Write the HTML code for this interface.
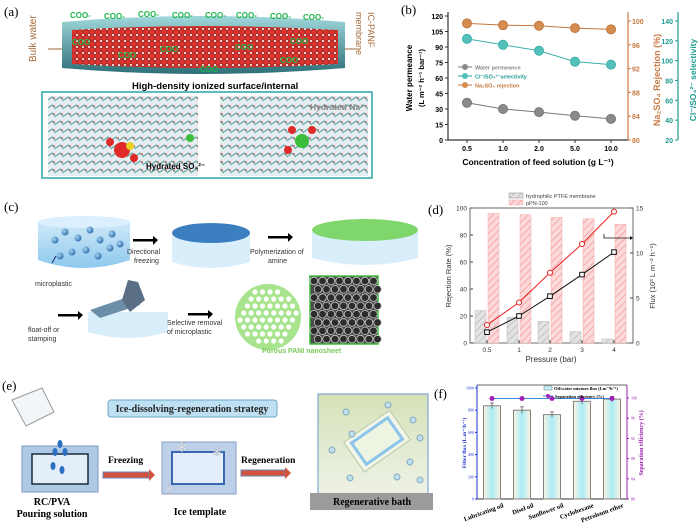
<!DOCTYPE html>
<html><head><meta charset="utf-8">
<style>
html,body{margin:0;padding:0;background:#fff;}
svg{display:block;font-family:"Liberation Sans",sans-serif;}
.serif{font-family:"Liberation Serif",serif;}
</style></head>
<body>
<svg id="fig" width="700" height="526" viewBox="0 0 700 526" xmlns="http://www.w3.org/2000/svg">
<defs>
<linearGradient id="teal" x1="0" y1="0" x2="0" y2="1"><stop offset="0" stop-color="#9fd8dc"/><stop offset="1" stop-color="#2d6f78"/></linearGradient>
<pattern id="reddots" width="6" height="6" patternUnits="userSpaceOnUse"><rect width="6" height="6" fill="#b8302a"/><circle cx="2" cy="2" r="1.8" fill="#e8342c"/><circle cx="5" cy="5" r="1" fill="#fff"/></pattern>
<pattern id="md" width="8" height="8" patternUnits="userSpaceOnUse"><rect width="8" height="8" fill="#e7ecee"/><path d="M0 4 L4 1 L8 5" stroke="#5aa7ad" stroke-width="1.2" fill="none"/><circle cx="6" cy="2" r="0.9" fill="#d44"/></pattern>
<pattern id="hatchPink" width="5" height="5" patternUnits="userSpaceOnUse" patternTransform="rotate(45)"><rect width="5" height="5" fill="#fcdada"/><line x1="0" y1="0" x2="0" y2="5" stroke="#f4a8a8" stroke-width="2"/></pattern>
<pattern id="hatchGrey" width="5" height="5" patternUnits="userSpaceOnUse" patternTransform="rotate(45)"><rect width="5" height="5" fill="#e3e3e3"/><line x1="0" y1="0" x2="0" y2="5" stroke="#c2c2c2" stroke-width="2"/></pattern>
<linearGradient id="cyanbar" x1="0" y1="0" x2="1" y2="0"><stop offset="0" stop-color="#fbf3e6"/><stop offset="0.5" stop-color="#a9ecf5"/><stop offset="1" stop-color="#fbf3e6"/></linearGradient>
<linearGradient id="bath" x1="0" y1="0" x2="0" y2="1"><stop offset="0" stop-color="#d5e2b8"/><stop offset="1" stop-color="#eef2e6"/></linearGradient>
<linearGradient id="dish" x1="0" y1="0" x2="0" y2="1"><stop offset="0" stop-color="#cfe9f8"/><stop offset="1" stop-color="#8ec9ee"/></linearGradient>
<radialGradient id="ball" cx="0.35" cy="0.35" r="0.7"><stop offset="0" stop-color="#a7d4f4"/><stop offset="1" stop-color="#2e6ea8"/></radialGradient>
</defs>

<!-- ===== Panel (a) ===== -->
<g>
<text x="4" y="16" class="serif" font-size="13">(a)</text>
<path d="M62 22 Q200 10 345 22 L345 68 Q200 80 62 68 Z" fill="url(#teal)"/>
<path d="M72 30 Q200 22 338 30 L338 64 Q200 72 72 64 Z" fill="url(#reddots)"/>
<g fill="#1fb54a" font-size="8" font-weight="bold">
<text x="70" y="18">COO-</text><text x="104" y="19">COO-</text><text x="138" y="17">COO-</text><text x="172" y="18">COO-</text><text x="205" y="18">COO-</text><text x="236" y="18">COO-</text><text x="270" y="19">COO-</text><text x="303" y="20">COO-</text>
<text x="72" y="45">COO</text><text x="118" y="58">COO</text><text x="160" y="52">COO</text><text x="235" y="50">COO</text><text x="290" y="44">COO</text><text x="280" y="63">COO</text><text x="200" y="72">COO</text>
</g>
<line x1="48" y1="49" x2="62" y2="49" stroke="#9a6a3c"/>
<line x1="345" y1="49" x2="360" y2="49" stroke="#9a6a3c"/>
<text transform="translate(36,62) rotate(-90)" font-size="10" fill="#a56b3b">Bulk water</text>
<text transform="translate(368,12) rotate(90)" font-size="9" fill="#a56b3b">IC-PANF</text>
<text transform="translate(356,12) rotate(90)" font-size="9" fill="#a56b3b">membrane</text>
<text x="132" y="89" font-size="9.5" font-weight="bold">High-density ionized surface/internal</text>
<rect x="42" y="92" width="330" height="86" fill="#fff" stroke="#2aa6a8" stroke-width="1.5"/>
<rect x="48" y="96" width="150" height="80" fill="url(#md)"/>
<rect x="220" y="96" width="148" height="80" fill="url(#md)"/>
<circle cx="122" cy="150" r="8" fill="#e02a2a"/><circle cx="130" cy="146" r="4" fill="#e6d020"/><circle cx="110" cy="142" r="4" fill="#e02a2a"/><circle cx="134" cy="158" r="4" fill="#e02a2a"/>
<circle cx="302" cy="141" r="7" fill="#3cbd3c"/><circle cx="292" cy="130" r="4" fill="#e02a2a"/><circle cx="312" cy="130" r="4" fill="#e02a2a"/><circle cx="288" cy="150" r="4" fill="#e02a2a"/>
<circle cx="190" cy="138" r="4" fill="#3cbd3c"/>
<text x="146" y="169" font-size="8" font-weight="bold">Hydrated SO₄²⁻</text>
<text x="310" y="110" font-size="8.5" font-weight="bold" fill="#888">Hydrated Na⁺</text>
</g>

<!-- ===== Panel (c) ===== -->
<g>
<text x="4" y="211" class="serif" font-size="13">(c)</text>
<path d="M38 222 L130 222 L130 260 Q84 276 38 260 Z" fill="url(#dish)"/>
<ellipse cx="84" cy="222" rx="46" ry="6" fill="#dcefff"/>
<g fill="url(#ball)"><circle cx="55" cy="240" r="3.5"/><circle cx="65" cy="232" r="3.5"/><circle cx="78" cy="238" r="3.5"/><circle cx="90" cy="230" r="3.5"/><circle cx="100" cy="240" r="3.5"/><circle cx="112" cy="234" r="3.5"/><circle cx="72" cy="252" r="3.5"/><circle cx="86" cy="250" r="3.5"/><circle cx="98" cy="256" r="3.5"/><circle cx="110" cy="248" r="3.5"/><circle cx="60" cy="256" r="3.5"/><circle cx="120" cy="244" r="3.5"/></g>
<line x1="52" y1="263" x2="56" y2="256" stroke="#23286a"/>
<text x="35" y="286" font-size="7" fill="#333">microplastic</text>
<rect x="133" y="239" width="20" height="2.5" fill="#000"/><polygon points="153,236 158,240 153,245" fill="#000"/>
<text x="127" y="254" font-size="7" fill="#333">Directional</text><text x="134" y="263" font-size="7" fill="#333">freezing</text>
<path d="M172 236 L250 236 L250 262 Q211 274 172 262 Z" fill="#d9eefb"/>
<ellipse cx="211" cy="233" rx="39" ry="10" fill="#3b7fc0"/>
<text x="250" y="254" font-size="7" fill="#333">Polymerization of</text><text x="268" y="263" font-size="7" fill="#333">amine</text>
<rect x="268" y="236" width="20" height="2.5" fill="#000"/><polygon points="288,233 293,237 288,242" fill="#000"/>
<path d="M312 232 L418 232 L418 258 Q365 272 312 258 Z" fill="#d9eefb"/>
<ellipse cx="365" cy="230" rx="53" ry="11" fill="#7fd66a"/>
<rect x="58" y="314" width="20" height="2.5" fill="#000"/><polygon points="78,311 83,315 78,320" fill="#000"/>
<text x="28" y="332" font-size="7" fill="#333">float-off or</text><text x="28" y="341" font-size="7" fill="#333">stamping</text>
<path d="M88 312 L168 312 L168 332 Q128 344 88 332 Z" fill="#d9eefb"/>
<path d="M90 310 L125 298 L135 290 L140 305 L100 318 Z" fill="#6b8fa8"/>
<path d="M122 300 L128 280 L138 282 L145 300 L130 312 Z" fill="#5a6f84"/>
<rect x="188" y="313" width="20" height="2.5" fill="#000"/><polygon points="208,310 213,314 208,319" fill="#000"/>
<text x="167" y="325" font-size="7" fill="#333">Selective removal</text><text x="167" y="334" font-size="7" fill="#333">of microplastic</text>
<circle cx="268" cy="317" r="33" fill="#a8e48e"/>
<g id="holes" fill="#fff"></g>
<rect x="310" y="276" width="68" height="68" fill="#4a4a4a" stroke="#3cbd3c" stroke-width="1.5"/>
<g id="sem"></g>
<text x="262" y="353" font-size="7" font-weight="bold" fill="#7cc95a">Porous PANI nanosheet</text>
</g>

<!-- ===== Panel (e) ===== -->
<g>
<text x="2" y="390" class="serif" font-size="13">(e)</text>
<rect x="108" y="400" width="169" height="17" rx="3" fill="#bfe0f2" stroke="#6aa9cc"/>
<text x="192" y="412" text-anchor="middle" class="serif" font-size="10" font-weight="bold" fill="#222">Ice-dissolving-regeneration strategy</text>
<path d="M12 400 L42 388 L54 412 L26 426 Z" fill="#f2f6f8" stroke="#999"/>
<rect x="22" y="446" width="76" height="46" fill="#aec9e4" stroke="#7a9ab8"/>
<rect x="32" y="454" width="56" height="30" fill="#e3eef8" stroke="#1d2a3a" stroke-width="1.5"/>
<g fill="#2a6fc2"><ellipse cx="60" cy="444" rx="2.5" ry="4"/><ellipse cx="55" cy="452" rx="2.5" ry="4"/><ellipse cx="65" cy="452" rx="2.5" ry="4"/><ellipse cx="53" cy="466" rx="2.5" ry="4"/><ellipse cx="62" cy="470" rx="2.5" ry="4"/></g>
<text x="52" y="505" text-anchor="middle" class="serif" font-size="10" font-weight="bold">RC/PVA</text>
<text x="52" y="517" text-anchor="middle" class="serif" font-size="10" font-weight="bold">Pouring solution</text>
<text x="108" y="463" class="serif" font-size="9.5" font-weight="bold">Freezing</text>
<rect x="103" y="472" width="46" height="6" fill="#d4533e" stroke="#6a85b8"/><polygon points="149,469 155,475 149,481" fill="#d4533e"/>
<rect x="162" y="442" width="74" height="52" fill="#bcd0ea" stroke="#8aa0c4"/>
<rect x="172" y="452" width="52" height="32" fill="#e4eefa" stroke="#3b67b0" stroke-width="2"/>
<text x="176" y="452" font-size="14" fill="#fff" stroke="#9ab" stroke-width="0.3">❄</text><text x="212" y="456" font-size="12" fill="#fff" stroke="#9ab" stroke-width="0.3">❄</text><text x="164" y="494" font-size="13" fill="#fff" stroke="#9ab" stroke-width="0.3">❄</text>
<text x="200" y="515" text-anchor="middle" class="serif" font-size="10" font-weight="bold">Ice template</text>
<text x="241" y="463" class="serif" font-size="9.5" font-weight="bold">Regeneration</text>
<rect x="241" y="470" width="44" height="6" fill="#d4533e" stroke="#6a85b8"/><polygon points="285,467 291,473 285,479" fill="#d4533e"/>
<rect x="318" y="394" width="110" height="100" fill="url(#bath)" stroke="#6a9ad0"/>
<g transform="rotate(-35 375 440)"><rect x="348" y="424" width="56" height="36" fill="#f1f6e8" stroke="#b8c8a8"/><rect x="354" y="429" width="44" height="26" fill="#eef4e2" stroke="#8cc4ec" stroke-width="3"/></g>
<g fill="#bfe0ef" stroke="#8ab"><circle cx="346" cy="412" r="3"/><circle cx="388" cy="405" r="3"/><circle cx="413" cy="420" r="3"/><circle cx="332" cy="450" r="3"/><circle cx="352" cy="434" r="3"/><circle cx="420" cy="438" r="3"/><circle cx="410" cy="462" r="3"/><circle cx="397" cy="477" r="3"/><circle cx="350" cy="478" r="3"/><circle cx="420" cy="480" r="3"/></g>
<rect x="310" y="493" width="123" height="17" fill="#9b9b9b"/>
<text x="372" y="505" text-anchor="middle" class="serif" font-size="10" font-weight="bold">Regenerative bath</text>
</g>

<!-- ===== Chart (b) ===== -->
<g id="chartB">
<text x="401" y="14" class="serif" font-size="13">(b)</text>
</g>
<!-- ===== Chart (d) ===== -->
<g id="chartD">
<text x="428" y="214" class="serif" font-size="13">(d)</text>
</g>
<!-- ===== Chart (f) ===== -->
<g id="chartF">
<text x="434" y="398" class="serif" font-size="13">(f)</text>
</g>
</svg>

<script>
// ---------- Panel b data ----------
const bCategories = ["0.5","1.0","2.0","5.0","10.0"];
const bPermeance = [36, 30, 27, 23.5, 20.5];
const bSelectivity = [122, 116, 110, 99, 96];
const bRejection = [99.6, 99.3, 99.2, 98.8, 98.6];
const bLeftTicks = [0,15,30,45,60,75,90,105,120];
const bRejTicks = [80,84,88,92,96,100];
const bSelTicks = [20,40,60,80,100,120,140];

// ---------- Panel d data ----------
const dCategories = ["0.5","1","2","3","4"];
const dPtfeRejection = [24, 19, 16, 8.5, 3];
const dPpnRejection = [96, 95, 93, 92, 88];
const dPpnFlux = [2, 4.5, 7.8, 11, 14.6];
const dPtfeFlux = [1.2, 3, 5.2, 7.6, 10.1];
const dLeftTicks = [0,20,40,60,80,100];
const dRightTicks = [0,5,10,15];

// ---------- Panel f data ----------
const fCategories = ["Lubricating oil","Disel oil","Sunflower oil","Cyclohexane","Petroleum ether"];
const fFlux = [840, 800, 760, 880, 900];
const fFluxErr = [25, 30, 25, 25, 25];
const fEfficiency = [99.9, 99.9, 99.9, 99.9, 99.9];
const fLeftTicks = [0,200,400,600,800,1000];
const fRightTicks = [80,84,88,92,96,100];

const NS = "http://www.w3.org/2000/svg";
function mk(parent, tag, attrs, text){
  const e = document.createElementNS(NS, tag);
  for (const k in attrs) e.setAttribute(k, attrs[k]);
  if (text !== undefined) e.textContent = text;
  parent.appendChild(e);
  return e;
}
function lin(d0,d1,r0,r1){ return v => r0 + (v-d0)/(d1-d0)*(r1-r0); }

// ===== Chart B =====
(function(){
  const g = document.getElementById('chartB');
  const x0=448, x1=628, yTop=12, yBot=140;
  const xb = i => 467 + i*36;
  const yL = lin(0,120,140,16);
  const yR = lin(80,100,140,21);
  const yS = lin(20,140,140,21);
  let a = mk(g,'line',{x1:x0,y1:yBot,x2:x1,y2:yBot,stroke:'#333','stroke-width':1.2});
   
  a = mk(g,'line',{x1:x0,y1:yTop,x2:x0,y2:yBot,stroke:'#333','stroke-width':1.2});
   
  a = mk(g,'line',{x1:x1,y1:yTop,x2:x1,y2:yBot,stroke:'#c77a45','stroke-width':1.2});
   
  a = mk(g,'line',{x1:678,y1:12,x2:678,y2:yBot,stroke:'#1f9a92','stroke-width':1.2});
   
  bLeftTicks.forEach(v=>{
    mk(g,'line',{x1:x0-3,y1:yL(v),x2:x0,y2:yL(v),stroke:'#333'});
    const t = mk(g,'text',{x:x0-5,y:yL(v)+3,'text-anchor':'end','font-size':7,'font-weight':'bold'},v);
     
  });
  bRejTicks.forEach(v=>{
    mk(g,'line',{x1:x1,y1:yR(v),x2:x1+3,y2:yR(v),stroke:'#c77a45'});
    const t = mk(g,'text',{x:x1+4,y:yR(v)+3,'font-size':7,'font-weight':'bold',fill:'#c77a45'},v);
     
  });
  bSelTicks.forEach(v=>{
    mk(g,'line',{x1:675,y1:yS(v),x2:678,y2:yS(v),stroke:'#1f9a92'});
    const t = mk(g,'text',{x:673,y:yS(v)+3,'text-anchor':'end','font-size':7,'font-weight':'bold',fill:'#1f9a92'},v);
     
  });
  bCategories.forEach((c,i)=>{
    mk(g,'line',{x1:xb(i),y1:yBot,x2:xb(i),y2:yBot+3,stroke:'#333'});
    const t = mk(g,'text',{x:xb(i),y:yBot+11,'text-anchor':'middle','font-size':7,'font-weight':'bold'},c);
     
  });
  let t = mk(g,'text',{x:538,y:165,'text-anchor':'middle','font-size':8.5,'font-weight':'bold'},'Concentration of feed solution (g L⁻¹)');
   
  t = mk(g,'text',{transform:'translate(412,78) rotate(-90)','text-anchor':'middle','font-size':8,'font-weight':'bold'},'Water permeance');
   
  t = mk(g,'text',{transform:'translate(424,78) rotate(-90)','text-anchor':'middle','font-size':7.5,'font-weight':'bold'},'(L m⁻² h⁻¹ bar⁻¹)');
   
  t = mk(g,'text',{transform:'translate(660,80) rotate(-90)','text-anchor':'middle','font-size':9,'font-weight':'bold',fill:'#c77a45'},'Na₂SO₄ Rejection (%)');
   
  t = mk(g,'text',{transform:'translate(696,80) rotate(-90)','text-anchor':'middle','font-size':8.5,'font-weight':'bold',fill:'#1f9a92'},'Cl⁻/SO₄²⁻ selectivity');
   
  const series = [
    {vals:bRejection, sc:yR, col:'#c2773f', fill:'#d58c50', name:'b-rejection'},
    {vals:bSelectivity, sc:yS, col:'#3bb0aa', fill:'#54c0ba', name:'b-selectivity'},
    {vals:bPermeance, sc:yL, col:'#777', fill:'#8a8a8a', name:'b-permeance'}
  ];
  series.forEach(s=>{
    const pts = s.vals.map((v,i)=>xb(i)+','+s.sc(v)).join(' ');
    const l = mk(g,'polyline',{points:pts,fill:'none',stroke:s.col,'stroke-width':1});
     
    s.vals.forEach((v,i)=>{
      const c = mk(g,'circle',{cx:xb(i),cy:s.sc(v),r:4.5,fill:s.fill,stroke:s.col});
       
    });
  });
  // legend
  const leg = [['Water permeance','#8a8a8a','#777'],['Cl⁻/SO₄²⁻selectivity','#54c0ba','#1f9a92'],['Na₂SO₄ rejection','#d58c50','#c2773f']];
  leg.forEach((L,i)=>{
    const y = 67 + i*9;
    mk(g,'line',{x1:458,y1:y,x2:472,y2:y,stroke:L[2]});
    mk(g,'circle',{cx:465,cy:y,r:3,fill:L[1]});
    const tt = mk(g,'text',{x:475,y:y+2.5,'font-size':5.5,'font-weight':'bold',fill:i==0?'#888':L[2]},L[0]);
     
  });
})();

// ===== Chart D =====
(function(){
  const g = document.getElementById('chartD');
  const x0=470, x1=633, yTop=208, yBot=343;
  const xd = i => [487,519,550,582,614][i];
  const yL = lin(0,100,343,208);
  const yR = lin(0,15,343,208);
  mk(g,'rect',{x:x0,y:yTop,width:x1-x0,height:yBot-yTop,fill:'none',stroke:'#444','stroke-width':0.8});
  dPtfeRejection.forEach((v,i)=>{
    const r = mk(g,'rect',{x:xd(i)-12,y:yL(v),width:11,height:yBot-yL(v),fill:'url(#hatchGrey)',stroke:'#bbb','stroke-width':0.5});
     
  });
  dPpnRejection.forEach((v,i)=>{
    const r = mk(g,'rect',{x:xd(i)+1,y:yL(v),width:11,height:yBot-yL(v),fill:'url(#hatchPink)',stroke:'#f4a8a8','stroke-width':0.5});
     
  });
  let l = mk(g,'polyline',{points:dPpnFlux.map((v,i)=>xd(i)+','+yR(v)).join(' '),fill:'none',stroke:'#e82020','stroke-width':1});
   
  l = mk(g,'polyline',{points:dPtfeFlux.map((v,i)=>xd(i)+','+yR(v)).join(' '),fill:'none',stroke:'#111','stroke-width':1});
   
  dPpnFlux.forEach((v,i)=>{
    const c = mk(g,'circle',{cx:xd(i),cy:yR(v),r:2.5,fill:'#fff',stroke:'#e82020'});
     
  });
  dPtfeFlux.forEach((v,i)=>{
    const c = mk(g,'rect',{x:xd(i)-2.3,y:yR(v)-2.3,width:4.6,height:4.6,fill:'#fff',stroke:'#111'});
     
  });
  dLeftTicks.forEach(v=>{
    mk(g,'line',{x1:x0,y1:yL(v),x2:x0+3,y2:yL(v),stroke:'#444'});
    const t = mk(g,'text',{x:x0-3,y:yL(v)+2.5,'text-anchor':'end','font-size':6.5,fill:'#333'},v);
     
  });
  dRightTicks.forEach(v=>{
    mk(g,'line',{x1:x1-3,y1:yR(v),x2:x1,y2:yR(v),stroke:'#444'});
    const t = mk(g,'text',{x:x1+3,y:yR(v)+2.5,'font-size':6.5,fill:'#333'},v);
     
  });
  dCategories.forEach((c,i)=>{
    mk(g,'line',{x1:xd(i),y1:yBot,x2:xd(i),y2:yBot-3,stroke:'#444'});
    const t = mk(g,'text',{x:xd(i),y:yBot+9,'text-anchor':'middle','font-size':6.5,fill:'#333'},c);
     
  });
  mk(g,'polyline',{points:'604,234 604,238 630,238',fill:'none',stroke:'#111','stroke-width':0.8});
  mk(g,'polygon',{points:'630,236 633,238 630,240',fill:'#111'});
  let t = mk(g,'text',{x:551,y:362,'text-anchor':'middle','font-size':8,fill:'#333'},'Pressure (bar)');
   
  t = mk(g,'text',{transform:'translate(451,276) rotate(-90)','text-anchor':'middle','font-size':7.5,fill:'#333'},'Rejection Rate (%)');
   
  t = mk(g,'text',{transform:'translate(655,276) rotate(-90)','text-anchor':'middle','font-size':7.5,fill:'#333'},'Flux (10³ L m⁻² h⁻¹)');
   
  mk(g,'rect',{x:509,y:193,width:14,height:5,fill:'url(#hatchGrey)',stroke:'#888','stroke-width':0.5});
  t = mk(g,'text',{x:526,y:198,'font-size':5.5,fill:'#444'},'hydrophilic PTFE membrane');
   
  mk(g,'rect',{x:509,y:200,width:14,height:5,fill:'url(#hatchPink)',stroke:'#f4a8a8','stroke-width':0.5});
  t = mk(g,'text',{x:526,y:205,'font-size':5.5,fill:'#444'},'pPN-100');
   
})();

// ===== Chart F =====
(function(){
  const g = document.getElementById('chartF');
  const x0=477, x1=627, yTop=385, yBot=499;
  const xf = i => 492 + i*30;
  const yL = lin(0,1000,499,388);
  const yR = lin(80,100,499,398);
  mk(g,'line',{x1:x0,y1:yTop,x2:x0,y2:yBot,stroke:'#2233cc','stroke-width':1});
  mk(g,'line',{x1:x1,y1:yTop,x2:x1,y2:yBot,stroke:'#9b1fb0','stroke-width':1});
  mk(g,'line',{x1:x0,y1:yBot,x2:x1,y2:yBot,stroke:'#333','stroke-width':1});
  mk(g,'line',{x1:x0,y1:yTop,x2:x1,y2:yTop,stroke:'#333','stroke-width':0.8});
  fFlux.forEach((v,i)=>{
    const r = mk(g,'rect',{x:xf(i)-8.5,y:yL(v),width:17,height:yBot-yL(v),fill:'url(#cyanbar)',stroke:'#8a8178','stroke-width':1});
     
    mk(g,'line',{x1:xf(i),y1:yL(v+fFluxErr[i]),x2:xf(i),y2:yL(v-fFluxErr[i]),stroke:'#333','stroke-width':0.6});
    mk(g,'line',{x1:xf(i)-2,y1:yL(v+fFluxErr[i]),x2:xf(i)+2,y2:yL(v+fFluxErr[i]),stroke:'#333','stroke-width':0.6});
  });
  const l = mk(g,'polyline',{points:fEfficiency.map((v,i)=>xf(i)+','+yR(v)).join(' '),fill:'none',stroke:'#3a86d8','stroke-width':1});
   
  fEfficiency.forEach((v,i)=>{
    const c = mk(g,'circle',{cx:xf(i),cy:yR(v),r:2.5,fill:'#a020b8'});
     
  });
  fLeftTicks.forEach(v=>{
    mk(g,'line',{x1:x0-2,y1:yL(v),x2:x0,y2:yL(v),stroke:'#2233cc'});
    const t = mk(g,'text',{x:x0-3,y:yL(v)+1.5,'text-anchor':'end','font-size':4,fill:'#2233cc',class:'serif'},v);
     
  });
  fRightTicks.forEach(v=>{
    mk(g,'line',{x1:x1,y1:yR(v),x2:x1+2,y2:yR(v),stroke:'#9b1fb0'});
    const t = mk(g,'text',{x:x1+4,y:yR(v)+1.5,'font-size':4,fill:'#9b1fb0',class:'serif'},v);
     
  });
  fCategories.forEach((c,i)=>{
    const t = mk(g,'text',{transform:'translate('+(xf(i)+12)+','+(yBot+8)+') rotate(-20)','text-anchor':'end','font-size':6.5,'font-weight':'bold',class:'serif'},c);
     
  });
  let t = mk(g,'text',{transform:'translate(466,443) rotate(-90)','text-anchor':'middle','font-size':5.5,'font-weight':'bold',fill:'#2233cc',class:'serif'},'Filter flux (L.m⁻²h⁻¹)');
   
  t = mk(g,'text',{transform:'translate(643,443) rotate(-90)','text-anchor':'middle','font-size':6,'font-weight':'bold',fill:'#9b1fb0',class:'serif'},'Separation efficiency (%)');
   
  mk(g,'rect',{x:544,y:386,width:8,height:4,fill:'#bff2fa',stroke:'#777','stroke-width':0.5});
  t = mk(g,'text',{x:554,y:390,'font-size':4.5,'font-weight':'bold',class:'serif'},'Oil/water mixture flux (Lm⁻²h⁻¹)');
   
  mk(g,'line',{x1:543,y1:396,x2:553,y2:396,stroke:'#3a86d8'});
  mk(g,'circle',{cx:548,cy:396,r:2,fill:'#a020b8'});
  t = mk(g,'text',{x:555,y:398,'font-size':4.5,'font-weight':'bold',class:'serif'},'Separation efficiency (%)');
   
})();

// decorative holes / SEM cells
(function(){
  const h = document.getElementById('holes');
  for (let r=0;r<8;r++) for (let c=0;c<9;c++){
    const x = 240 + c*7.5 + (r%2)*3.7, y = 292 + r*7;
    if ((x-268)*(x-268)+(y-317)*(y-317) < 29*29){
      const e = mk(h,'circle',{cx:x,cy:y,r:2.6});
       
    }
  }
  const s = document.getElementById('sem');
  for (let r=0;r<8;r++) for (let c=0;c<8;c++){
    const e = mk(s,'circle',{cx:314+c*8.5+(r%2)*4,cy:281+r*8.3,r:3.8,fill:'#2c2c2c',stroke:'#ccc','stroke-width':0.8});
     
  }
})();
</script>
</body></html>
